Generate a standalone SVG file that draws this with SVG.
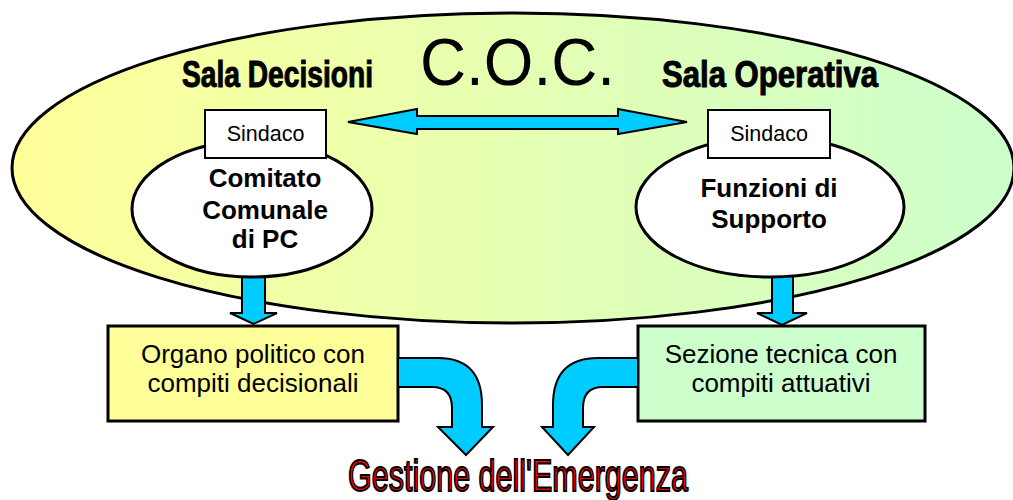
<svg xmlns="http://www.w3.org/2000/svg" width="1013" height="500" viewBox="0 0 1013 500">
<defs>
<linearGradient id="bg" x1="0" y1="0" x2="1" y2="0">
<stop offset="0" stop-color="#FFFF99"/>
<stop offset="1" stop-color="#CCFFCC"/>
</linearGradient>
<style>
.arr{fill:#00CCFF;stroke:#000;stroke-width:2;stroke-linejoin:miter}
.box{stroke:#000;stroke-width:3}
.sind{fill:#fff;stroke:#000;stroke-width:2}
.t{font-family:"Liberation Sans",Arial,sans-serif;text-anchor:middle;fill:#000}
.b{font-weight:bold}
.h{font-family:"Liberation Sans",Arial,sans-serif;font-weight:bold;font-size:36px;fill:#000;stroke:#000;stroke-width:1}
</style>
</defs>
<rect width="1013" height="500" fill="#fff"/>
<g id="coc">
<ellipse cx="513" cy="168" rx="501" ry="155" fill="url(#bg)" stroke="#000" stroke-width="3"/>
<text x="420" y="85" font-family="Liberation Sans,Arial,sans-serif" font-size="66" textLength="195" lengthAdjust="spacingAndGlyphs">C.O.C.</text>
<text class="h" x="182" y="87" textLength="191" lengthAdjust="spacingAndGlyphs">Sala Decisioni</text>
<text class="h" x="662" y="87" textLength="216" lengthAdjust="spacingAndGlyphs">Sala Operativa</text>
</g>
<g id="connectors">
<polygon class="arr" points="348,122 417,109 417,116 618,116 618,109 687,122 618,134 618,129 417,129 417,134"/>
<polygon class="arr" points="242,270 265,270 265,313 277,313 253.5,324 230,313 242,313"/>
<polygon class="arr" points="772,270 793,270 793,313 807,313 782,325 757,313 772,313"/>
</g>
<g id="comitato">
<ellipse cx="252" cy="209" rx="120" ry="68" fill="#fff" stroke="#000" stroke-width="3"/>
<text class="t b" x="265" y="187" font-size="26">Comitato</text>
<text class="t b" x="265" y="219" font-size="26">Comunale</text>
<text class="t b" x="265" y="248" font-size="26">di PC</text>
</g>
<g id="funzioni">
<ellipse cx="770" cy="207" rx="134" ry="70" fill="#fff" stroke="#000" stroke-width="3"/>
<text class="t b" x="769" y="197" font-size="26">Funzioni di</text>
<text class="t b" x="769" y="228" font-size="26">Supporto</text>
</g>
<g id="sindaco1">
<rect class="sind" x="205" y="110" width="121" height="48"/>
<text class="t" x="265.5" y="141" font-size="21.5">Sindaco</text>
</g>
<g id="sindaco2">
<rect class="sind" x="708" y="110" width="122" height="48"/>
<text class="t" x="769" y="141" font-size="21.5">Sindaco</text>
</g>
<g id="organo">
<rect class="box" x="108" y="326" width="290" height="95" fill="#FFFF99"/>
<text class="t" x="253" y="363" font-size="26">Organo politico con</text>
<text class="t" x="253" y="392" font-size="26">compiti decisionali</text>
</g>
<g id="sezione">
<rect class="box" x="638" y="326" width="287" height="95" fill="#CCFFCC"/>
<text class="t" x="781" y="363" font-size="26">Sezione tecnica con</text>
<text class="t" x="781" y="392" font-size="26">compiti attuativi</text>
</g>
<g id="connectors2">
<path class="arr" d="M398,358 L438,358 Q482,358 482,405 L482,427 L493,427 L466,455 L438,427 L452,427 L452,408 Q452,387 432,387 L398,387 Z"/>
<path class="arr" d="M638,358 L598,358 Q553,358 553,405 L553,427 L542,427 L568,455 L594,427 L583,427 L583,408 Q583,387 603,387 L638,387 Z"/>
</g>
<g id="gestione">
<text x="348" y="491" font-family="Liberation Sans,Arial,sans-serif" font-size="45" fill="#FF0000" stroke="#000" stroke-width="2" textLength="340" lengthAdjust="spacingAndGlyphs">Gestione dell'Emergenza</text>
</g>
</svg>
